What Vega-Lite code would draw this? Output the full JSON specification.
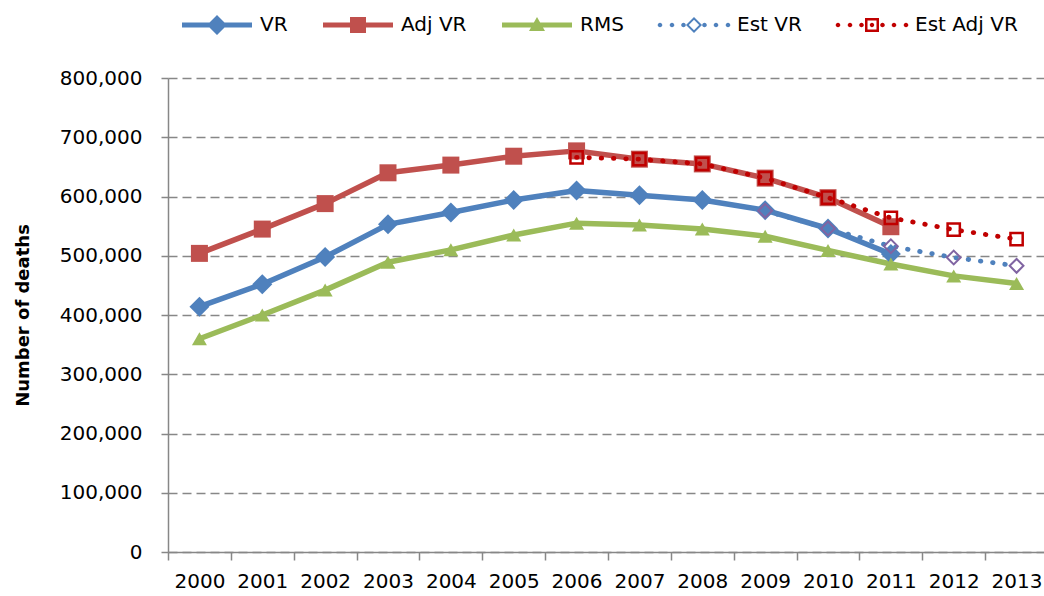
{
  "$schema": "https://vega.github.io/schema/vega-lite/v6.json",
  "width": 880,
  "height": 474,
  "autosize": {"type": "none"},
  "padding": {"left": 168, "top": 78, "right": 0, "bottom": 44},
  "background": "white",
  "config": {"view": {"stroke": null}, "font": "DejaVu Sans"},
  "data": {
    "values": [
      {"year": "2000", "series": "VR", "deaths": 414000},
      {"year": "2001", "series": "VR", "deaths": 452000},
      {"year": "2002", "series": "VR", "deaths": 498000},
      {"year": "2003", "series": "VR", "deaths": 553000},
      {"year": "2004", "series": "VR", "deaths": 573000},
      {"year": "2005", "series": "VR", "deaths": 594000},
      {"year": "2006", "series": "VR", "deaths": 610000},
      {"year": "2007", "series": "VR", "deaths": 602000},
      {"year": "2008", "series": "VR", "deaths": 594000},
      {"year": "2009", "series": "VR", "deaths": 577000},
      {"year": "2010", "series": "VR", "deaths": 546000},
      {"year": "2011", "series": "VR", "deaths": 503000},
      {"year": "2000", "series": "Adj VR", "deaths": 504000},
      {"year": "2001", "series": "Adj VR", "deaths": 545000},
      {"year": "2002", "series": "Adj VR", "deaths": 588000},
      {"year": "2003", "series": "Adj VR", "deaths": 640000},
      {"year": "2004", "series": "Adj VR", "deaths": 653000},
      {"year": "2005", "series": "Adj VR", "deaths": 668000},
      {"year": "2006", "series": "Adj VR", "deaths": 677000},
      {"year": "2007", "series": "Adj VR", "deaths": 663000},
      {"year": "2008", "series": "Adj VR", "deaths": 655000},
      {"year": "2009", "series": "Adj VR", "deaths": 631000},
      {"year": "2010", "series": "Adj VR", "deaths": 598000},
      {"year": "2011", "series": "Adj VR", "deaths": 549000},
      {"year": "2000", "series": "RMS", "deaths": 360000},
      {"year": "2001", "series": "RMS", "deaths": 400000},
      {"year": "2002", "series": "RMS", "deaths": 442000},
      {"year": "2003", "series": "RMS", "deaths": 489000},
      {"year": "2004", "series": "RMS", "deaths": 510000},
      {"year": "2005", "series": "RMS", "deaths": 535000},
      {"year": "2006", "series": "RMS", "deaths": 555000},
      {"year": "2007", "series": "RMS", "deaths": 552000},
      {"year": "2008", "series": "RMS", "deaths": 545000},
      {"year": "2009", "series": "RMS", "deaths": 533000},
      {"year": "2010", "series": "RMS", "deaths": 509000},
      {"year": "2011", "series": "RMS", "deaths": 486000},
      {"year": "2012", "series": "RMS", "deaths": 466000},
      {"year": "2013", "series": "RMS", "deaths": 453000},
      {"year": "2009", "series": "Est VR", "deaths": 576000},
      {"year": "2010", "series": "Est VR", "deaths": 546000},
      {"year": "2011", "series": "Est VR", "deaths": 516000},
      {"year": "2012", "series": "Est VR", "deaths": 497000},
      {"year": "2013", "series": "Est VR", "deaths": 483000},
      {"year": "2006", "series": "Est Adj VR", "deaths": 666000},
      {"year": "2007", "series": "Est Adj VR", "deaths": 663000},
      {"year": "2008", "series": "Est Adj VR", "deaths": 655000},
      {"year": "2009", "series": "Est Adj VR", "deaths": 631000},
      {"year": "2010", "series": "Est Adj VR", "deaths": 598000},
      {"year": "2011", "series": "Est Adj VR", "deaths": 564000},
      {"year": "2012", "series": "Est Adj VR", "deaths": 544000},
      {"year": "2013", "series": "Est Adj VR", "deaths": 528000}
    ]
  },
  "encoding": {
    "x": {
      "field": "year",
      "type": "ordinal",
      "bandPosition": 0.5,
      "scale": {"type": "band", "paddingInner": 0, "paddingOuter": 0},
      "axis": {
        "title": null,
        "labelAngle": 0,
        "tickBand": "extent",
        "grid": false,
        "domainColor": "#878787",
        "domainWidth": 1.5,
        "tickColor": "#878787",
        "tickWidth": 1.5,
        "tickSize": 8,
        "labelPadding": 11,
        "labelFont": "DejaVu Sans",
        "labelFontSize": 20,
        "labelColor": "#000000"
      }
    },
    "y": {
      "field": "deaths",
      "type": "quantitative",
      "scale": {"domain": [0, 800000], "nice": false},
      "axis": {
        "title": "Number of deaths",
        "values": [0, 100000, 200000, 300000, 400000, 500000, 600000, 700000, 800000],
        "format": ",.0f",
        "grid": true,
        "gridColor": "#878787",
        "gridDash": [9, 5],
        "gridWidth": 1.3,
        "domainColor": "#878787",
        "domainWidth": 1.5,
        "tickColor": "#878787",
        "tickWidth": 1.5,
        "tickSize": 7,
        "labelPadding": 19,
        "labelFont": "DejaVu Sans",
        "labelFontSize": 20,
        "labelColor": "#000000",
        "titleFont": "DejaVu Sans",
        "titleFontSize": 18,
        "titleFontWeight": "bold",
        "titleColor": "#000000",
        "titleX": -145,
        "titleY": 237,
        "titleAngle": -90,
        "titleAlign": "center",
        "titleBaseline": "middle"
      }
    }
  },
  "layer": [
    {
      "transform": [{"filter": "datum.series === 'VR' || datum.series === 'Adj VR' || datum.series === 'RMS'"}],
      "mark": {"type": "line", "strokeWidth": 5.5, "strokeJoin": "round"},
      "encoding": {
        "color": {
          "field": "series",
          "type": "nominal",
          "scale": {
            "domain": ["VR", "Adj VR", "RMS", "Est VR", "Est Adj VR"],
            "range": ["#4F81BD", "#C0504D", "#9BBB59", "#4F81BD", "#C00000"]
          },
          "legend": {
            "orient": "none",
            "legendX": 4,
            "legendY": -63,
            "direction": "horizontal",
            "columns": 5,
            "title": null,
            "symbolSize": 4,
            "symbolOffset": 0,
            "labelOffset": 68,
            "columnPadding": 25,
            "labelFont": "DejaVu Sans",
            "labelFontSize": 20,
            "labelColor": "#000000",
            "labelLimit": 300,
            "encode": {
              "symbols": {
                "update": {
                  "shape": {"signal": "datum.value === 'VR' ? 'M0,-2.5H70V2.5H0Z M35,-10L45,0L35,10L25,0Z' : datum.value === 'Adj VR' ? 'M0,-2.5H70V2.5H0Z M27,-8H43V8H27Z' : datum.value === 'RMS' ? 'M0,-2.5H70V2.5H0Z M35,-8L43,6H27Z' : datum.value === 'Est VR' ? 'M-1.3,0a2.3,2.3 0 1,0 4.6,0a2.3,2.3 0 1,0 -4.6,0Z M10.7,0a2.3,2.3 0 1,0 4.6,0a2.3,2.3 0 1,0 -4.6,0Z M22.2,0a2.3,2.3 0 1,0 4.6,0a2.3,2.3 0 1,0 -4.6,0Z M43.2,0a2.3,2.3 0 1,0 4.6,0a2.3,2.3 0 1,0 -4.6,0Z M54.7,0a2.3,2.3 0 1,0 4.6,0a2.3,2.3 0 1,0 -4.6,0Z M66.7,0a2.3,2.3 0 1,0 4.6,0a2.3,2.3 0 1,0 -4.6,0Z M35,-8L43,0L35,8L27,0Z M35,-5.2L29.8,0L35,5.2L40.2,0Z' : 'M-1.3,0a2.3,2.3 0 1,0 4.6,0a2.3,2.3 0 1,0 -4.6,0Z M10.7,0a2.3,2.3 0 1,0 4.6,0a2.3,2.3 0 1,0 -4.6,0Z M22.2,0a2.3,2.3 0 1,0 4.6,0a2.3,2.3 0 1,0 -4.6,0Z M43.2,0a2.3,2.3 0 1,0 4.6,0a2.3,2.3 0 1,0 -4.6,0Z M54.7,0a2.3,2.3 0 1,0 4.6,0a2.3,2.3 0 1,0 -4.6,0Z M66.7,0a2.3,2.3 0 1,0 4.6,0a2.3,2.3 0 1,0 -4.6,0Z M28,-7H42V7H28Z M30.5,-4.5V4.5H39.5V-4.5Z M32.8,0a2.2,2.2 0 1,0 4.4,0a2.2,2.2 0 1,0 -4.4,0Z'"},
                  "size": {"value": 4},
                  "fill": {"scale": "color", "field": "value"},
                  "fillOpacity": {"value": 1},
                  "stroke": {"value": "transparent"},
                  "strokeWidth": {"value": 0},
                  "opacity": {"value": 1}
                }
              }
            }
          }
        }
      }
    },
    {
      "transform": [{"filter": "datum.series === 'VR'"}],
      "mark": {"type": "point", "shape": "diamond", "size": 400, "filled": true, "color": "#4F81BD", "opacity": 1}
    },
    {
      "transform": [{"filter": "datum.series === 'Adj VR'"}],
      "mark": {"type": "point", "shape": "square", "size": 289, "filled": true, "color": "#C0504D", "opacity": 1}
    },
    {
      "transform": [{"filter": "datum.series === 'RMS'"}],
      "mark": {"type": "point", "shape": "triangle-up", "size": 225, "filled": true, "color": "#9BBB59", "opacity": 1}
    },
    {
      "transform": [{"filter": "datum.series === 'Est VR'"}],
      "mark": {"type": "line", "strokeWidth": 4.8, "strokeCap": "round", "strokeDash": [0.5, 11.8]},
      "encoding": {"color": {"field": "series", "type": "nominal"}}
    },
    {
      "transform": [{"filter": "datum.series === 'Est VR'"}],
      "mark": {"type": "point", "shape": "diamond", "size": 190, "filled": false, "stroke": "#8064A2", "strokeWidth": 2, "fill": null, "opacity": 1}
    },
    {
      "transform": [{"filter": "datum.series === 'Est Adj VR'"}],
      "mark": {"type": "point", "shape": "square", "size": 150, "filled": false, "stroke": "#C00000", "strokeWidth": 2.5, "opacity": 1}
    },
    {
      "transform": [{"filter": "datum.series === 'Est Adj VR'"}],
      "mark": {"type": "line", "strokeWidth": 4.8, "strokeCap": "round", "strokeDash": [0.5, 11.8]},
      "encoding": {"color": {"field": "series", "type": "nominal"}}
    }
  ]
}
